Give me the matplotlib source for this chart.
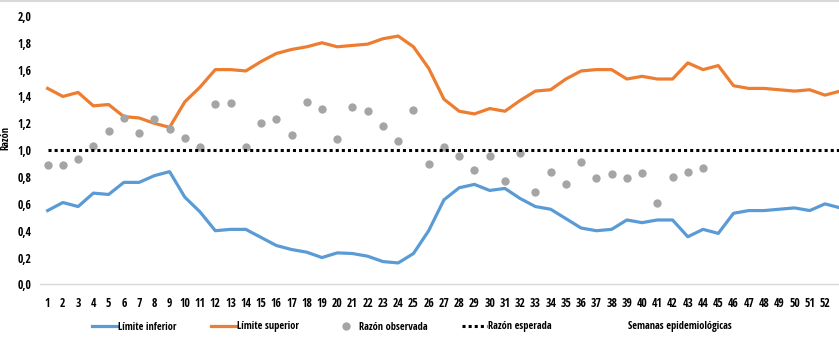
import matplotlib
matplotlib.use("Agg")
import matplotlib.pyplot as plt
from matplotlib.lines import Line2D

plt.rcParams['font.family'] = ['Open Sans Condensed', 'Liberation Sans', 'DejaVu Sans']
plt.rcParams['font.weight'] = 'bold'

# semanas epidemiologicas
semanas = list(range(1, 54))

limite_inferior = [0.55, 0.61, 0.58, 0.68, 0.67, 0.76, 0.76, 0.81, 0.84, 0.65,
                   0.54, 0.40, 0.41, 0.41, 0.35, 0.29, 0.26, 0.24, 0.20, 0.235,
                   0.23, 0.21, 0.17, 0.16, 0.23, 0.40, 0.63, 0.72, 0.745, 0.70,
                   0.715, 0.64, 0.58, 0.56, 0.49, 0.42, 0.40, 0.41, 0.48, 0.46,
                   0.48, 0.48, 0.355, 0.41, 0.38, 0.53, 0.55, 0.55, 0.56, 0.57,
                   0.55, 0.60, 0.57]

limite_superior = [1.46, 1.40, 1.43, 1.33, 1.34, 1.25, 1.24, 1.20, 1.17, 1.36,
                   1.47, 1.60, 1.60, 1.59, 1.66, 1.72, 1.75, 1.77, 1.80, 1.77,
                   1.78, 1.79, 1.83, 1.85, 1.77, 1.61, 1.38, 1.29, 1.27, 1.31,
                   1.29, 1.37, 1.44, 1.45, 1.53, 1.59, 1.60, 1.60, 1.53, 1.55,
                   1.53, 1.53, 1.65, 1.60, 1.63, 1.48, 1.46, 1.46, 1.45, 1.44,
                   1.45, 1.41, 1.44]

# razon observada solo hasta la semana 44
semanas_obs = list(range(1, 45))
razon_observada = [0.89, 0.89, 0.935, 1.03, 1.14, 1.24, 1.13, 1.23, 1.16, 1.09,
                   1.02, 1.345, 1.355, 1.02, 1.20, 1.23, 1.11, 1.36, 1.31, 1.085,
                   1.32, 1.29, 1.18, 1.07, 1.30, 0.90, 1.02, 0.96, 0.85, 0.96,
                   0.77, 0.98, 0.69, 0.84, 0.745, 0.915, 0.79, 0.82, 0.79, 0.83,
                   0.61, 0.80, 0.84, 0.87]

razon_esperada = [1.0] * len(semanas)

y_ticks = [0.0, 0.2, 0.4, 0.6, 0.8, 1.0, 1.2, 1.4, 1.6, 1.8, 2.0]

fig = plt.figure(figsize=(8.39, 3.46), dpi=100)
ax = fig.add_axes([0.0477, 0.178, 0.9523, 0.776])

ax.plot(semanas, limite_inferior, color='#5b9bd5', lw=2.3, label='Límite inferior',
        solid_joinstyle='round')
ax.plot(semanas, limite_superior, color='#ed7d31', lw=2.3, label='Límite superior',
        solid_joinstyle='round')
ax.plot(semanas_obs, razon_observada, 'o', color='#a5a5a5', ms=6, mec='none',
        label='Razón observada')
ax.plot(semanas, razon_esperada, color='black', lw=2.2, linestyle=(0, (1, 1)),
        label='Razón esperada')

ax.set_xlim(0.5, 52.92)
ax.set_ylim(0, 2.0)
ax.set_yticks(y_ticks)
ax.set_yticklabels([('%.1f' % v).replace('.', ',') for v in y_ticks])
ax.set_xticks(semanas[:52])
ax.set_xticklabels([str(s) for s in semanas[:52]])
ax.tick_params(axis='both', length=0, labelsize=8.5)
ax.tick_params(axis='y', pad=6)
ax.tick_params(axis='x', pad=9)

for s in ['top', 'right', 'left']:
    ax.spines[s].set_visible(False)
ax.spines['bottom'].set_color('#d9d9d9')
ax.spines['bottom'].set_linewidth(1)

fig.text(6 / 839, 1 - 138 / 346, 'Razón', rotation=90, fontsize=7.5,
         ha='center', va='center')
fig.text(680 / 839, 1 - 327 / 346, 'Semanas epidemiológicas', fontsize=7.5,
         ha='center', va='center')

fig.legend(loc='center', bbox_to_anchor=(322 / 839, 1 - 327 / 346), ncol=4,
           frameon=False, fontsize=7.5, handlelength=2.4, handletextpad=0.1,
           columnspacing=3.3)

# borde superior gris
fig.add_artist(Line2D([0, 1], [0.997, 0.997], transform=fig.transFigure,
                      color='#d9d9d9', lw=1.5))

fig.savefig('out.png', dpi=100)
